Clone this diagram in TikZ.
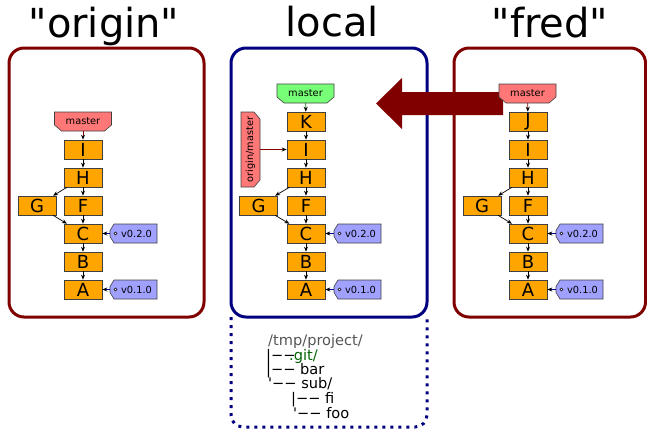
\documentclass[tikz,border=0pt]{standalone}
\usepackage{fontspec}
\setmainfont{DejaVu Sans}
\setmonofont{DejaVu Sans}
\usetikzlibrary{arrows.meta}
\definecolor{dred}{RGB}{128,0,0}
\definecolor{dnavy}{RGB}{0,0,128}
\definecolor{corange}{RGB}{255,165,0}
\definecolor{tred}{RGB}{255,119,119}
\definecolor{tgreen}{RGB}{119,255,119}
\definecolor{tblue}{RGB}{160,160,255}
\definecolor{bgray}{RGB}{64,64,64}
\definecolor{gitgreen}{RGB}{0,100,0}
\definecolor{pathgray}{RGB}{85,85,85}
\newcommand\MyMTag[5]{% name, cx, cy, fill, text
  \filldraw[tagborder, fill=#4] (#2-28.5,#3-9.5) -- (#2+28.5,#3-9.5) -- (#2+28.5,#3+3.5) -- (#2+21.5,#3+9.5) -- (#2-21.5,#3+9.5) -- (#2-28.5,#3+3.5) -- cycle;
  \node[tagtext, minimum width=57pt] (#1) at (#2,#3) {#5};}
\newcommand\MyVTag[4]{% name, cx, cy, text
  \filldraw[tagborder, fill=tblue] (#2-19.5,#3-9.5) -- (#2+23.5,#3-9.5) -- (#2+23.5,#3+9.5) -- (#2-19.5,#3+9.5) -- (#2-23.5,#3+3) -- (#2-23.5,#3-3) -- cycle;
  \filldraw[black, fill=white, line width=0.5pt] (#2-18,#3) circle (1.5pt);
  \node[tagtext, minimum width=47pt] (#1) at (#2,#3) {\hspace{6pt}#4};}
\begin{document}
\begin{tikzpicture}[x=1pt,y=-1pt,
  frame/.style={line width=3pt, rounded corners=15pt},
  title/.style={font=\ttfamily\fontsize{40}{40}\selectfont, anchor=base, inner sep=0pt},
  commit/.style={draw=bgray, fill=corange, line width=0.6pt, minimum width=38pt, minimum height=19pt, inner sep=0pt, font=\fontsize{18}{18}\selectfont},
  tagborder/.style={draw=bgray, line width=0.6pt},
  tagtext/.style={minimum height=19pt, inner sep=0pt, font=\fontsize{9.8}{9.8}\selectfont},
  cedge/.style={draw=black, line width=0.7pt, -{Stealth[length=5pt,width=4pt,color=black]}},
  redge/.style={cedge, draw=dred},
  bedge/.style={cedge, draw=dnavy},
  tree/.style={anchor=base west, inner sep=0pt, font=\ttfamily\fontsize{14.6}{14.6}\selectfont}
]
\useasboundingbox (0,0) rectangle (647,429);
% titles
\node[title] (t1) at (104,37) {"origin"};
\node[title] (t2) at (332,36) {local};
\node[title] (t3) at (550,37) {"fred"};
% frames
\draw[frame, dred] (9,48) rectangle (204,317);
\draw[frame, dnavy] (231,48) rectangle (427,317);
\draw[frame, dred] (454,48) rectangle (645.5,317);
\draw[dnavy, line width=3pt, dash pattern=on 3pt off 5pt, rounded corners=12pt] (231,317) -- (231,427) -- (427,427) -- (427,317);
% big arrow
\fill[dred] (503,92) -- (402,92) -- (402,78) -- (376,103.5) -- (402,129) -- (402,115) -- (503,115) -- cycle;
% ---------- origin ----------
\MyMTag{om}{83}{121.5}{tred}{master}
\node[commit] (oI) at (83,149.5) {I};
\node[commit] (oH) at (83,177.5) {H};
\node[commit] (oF) at (83,205.5) {F};
\node[commit] (oG) at (37,205.5) {G};
\node[commit] (oC) at (83,233.5) {C};
\node[commit] (oB) at (83,261.5) {B};
\node[commit] (oA) at (83,289.5) {A};
\MyVTag{ot2}{133.5}{233.5}{v0.2.0}
\MyVTag{ot1}{133.5}{289.5}{v0.1.0}
\draw[redge] (om) -- (oI);
\draw[cedge] (oI) -- (oH);
\draw[cedge] (oH) -- (oF);
\draw[cedge] (oH) -- (oG);
\draw[cedge] (oF) -- (oC);
\draw[cedge] (oG) -- (oC);
\draw[cedge] (oC) -- (oB);
\draw[cedge] (oB) -- (oA);
\draw[bedge] (ot2.west) -- (oC.east);
\draw[bedge] (ot1.west) -- (oA.east);
% ---------- local ----------
\MyMTag{lm}{305.5}{93.5}{tgreen}{master}
\filldraw[tagborder, fill=tred] (241,112) -- (254,112) -- (260,119) -- (260,180) -- (254,187) -- (241,187) -- cycle;
\node[tagtext, rotate=90, minimum width=75pt] (lom) at (250.5,149.5) {origin/master};
\node[commit] (lK) at (306,121.5) {K};
\node[commit] (lI) at (306,149.5) {I};
\node[commit] (lH) at (306,177.5) {H};
\node[commit] (lF) at (306,205.5) {F};
\node[commit] (lG) at (258.5,205.5) {G};
\node[commit] (lC) at (306,233.5) {C};
\node[commit] (lB) at (306,261.5) {B};
\node[commit] (lA) at (306,289.5) {A};
\MyVTag{lt2}{357.5}{233.5}{v0.2.0}
\MyVTag{lt1}{357.5}{289.5}{v0.1.0}
\draw[cedge, draw=green!50!black] (lm) -- (lK);
\draw[redge] (lom) -- (lI);
\draw[cedge] (lK) -- (lI);
\draw[cedge] (lI) -- (lH);
\draw[cedge] (lH) -- (lF);
\draw[cedge] (lH) -- (lG);
\draw[cedge] (lF) -- (lC);
\draw[cedge] (lG) -- (lC);
\draw[cedge] (lC) -- (lB);
\draw[cedge] (lB) -- (lA);
\draw[bedge] (lt2.west) -- (lC.east);
\draw[bedge] (lt1.west) -- (lA.east);
% ---------- fred ----------
\MyMTag{fm}{527.5}{93.5}{tred}{master}
\node[commit] (fJ) at (528,121.5) {J};
\node[commit] (fI) at (528,149.5) {I};
\node[commit] (fH) at (528,177.5) {H};
\node[commit] (fF) at (528,205.5) {F};
\node[commit] (fG) at (482,205.5) {G};
\node[commit] (fC) at (528,233.5) {C};
\node[commit] (fB) at (528,261.5) {B};
\node[commit] (fA) at (528,289.5) {A};
\MyVTag{ft2}{579.5}{233.5}{v0.2.0}
\MyVTag{ft1}{579.5}{289.5}{v0.1.0}
\draw[redge] (fm) -- (fJ);
\draw[cedge] (fJ) -- (fI);
\draw[cedge] (fI) -- (fH);
\draw[cedge] (fH) -- (fF);
\draw[cedge] (fH) -- (fG);
\draw[cedge] (fF) -- (fC);
\draw[cedge] (fG) -- (fC);
\draw[cedge] (fC) -- (fB);
\draw[cedge] (fB) -- (fA);
\draw[bedge] (ft2.west) -- (fC.east);
\draw[bedge] (ft1.west) -- (fA.east);
% ---------- directory tree ----------
\node[tree, text=pathgray] (d1) at (268,345) {/tmp/project/};
\node[tree] (d2a) at (266,360) {|−−};
\node[tree, text=gitgreen] (d2b) at (289,360) {.git/};
\node[tree] (d3) at (266,374) {|−− bar};
\node[tree] (d4) at (268,388) {'−− sub/};
\node[tree] (d5) at (291,403) {|−− fi};
\node[tree] (d6) at (293,418) {'−− foo};
\end{tikzpicture}
\end{document}
